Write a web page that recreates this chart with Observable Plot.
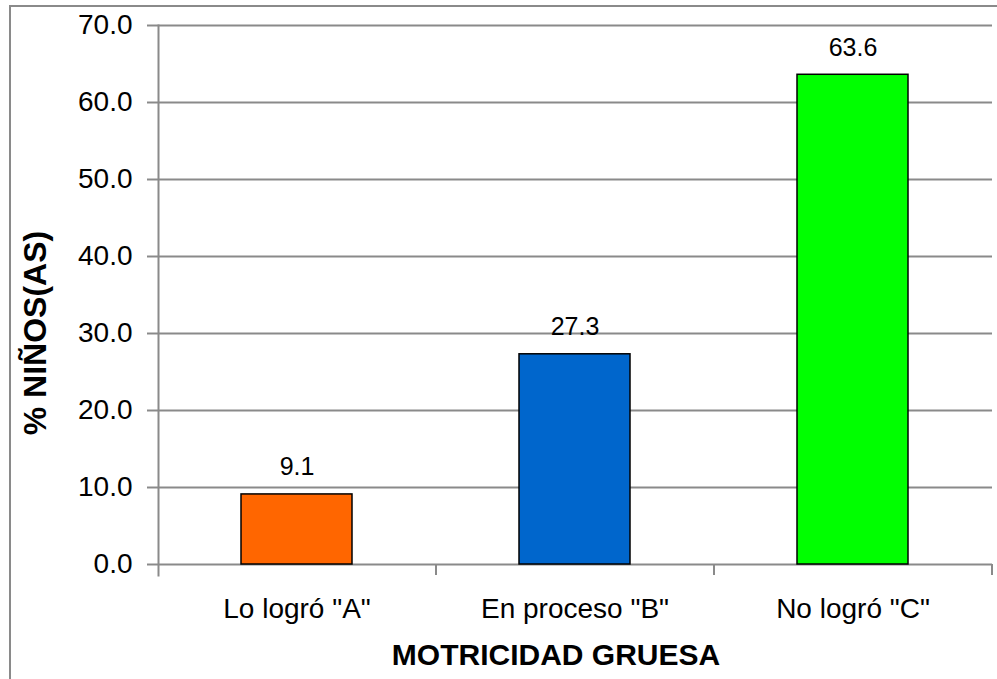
<!DOCTYPE html>
<html>
<head>
<meta charset="utf-8">
<script src="https://cdn.jsdelivr.net/npm/d3@7"></script>
<script src="https://cdn.jsdelivr.net/npm/@observablehq/plot@0.6"></script>
<style>
  html, body { margin: 0; padding: 0; background: #fff; }
  #wrap { position: relative; width: 997px; height: 679px; overflow: hidden; font-family: "Liberation Sans", Arial, sans-serif; color: #000; }
  #border { position: absolute; left: 9px; top: 5px; width: 1100px; height: 800px; border: 2px solid #8a8a8a; box-sizing: border-box; }
  #chart { position: absolute; left: 0; top: 0; }
  .title { position: absolute; font-weight: bold; white-space: nowrap; line-height: 1; }
  #xtitle { left: 556px; top: 640px; font-size: 30px; transform: translateX(-50%); }
  #ytitle { left: 35px; top: 333px; font-size: 32px; transform: translate(-50%, -50%) rotate(-90deg); }
</style>
</head>
<body>
<div id="wrap">
  <div id="border"></div>
  <div id="chart"></div>
  <div class="title" id="xtitle"></div>
  <div class="title" id="ytitle"></div>
</div>
<script>
const categories = ['Lo logró "A"', 'En proceso "B"', 'No logró "C"'];
const values = [9.1, 27.3, 63.6];
const barColors = ["#FF6600", "#0066CC", "#00FF00"];
const yTicks = [0, 10, 20, 30, 40, 50, 60, 70];
const xTitle = "MOTRICIDAD GRUESA";
const yTitle = "% NIÑOS(AS)";

const data = categories.map((c, i) => ({cat: c, value: values[i], color: barColors[i]}));

const W = 997, H = 679, ML = 158, MR = 5, MT = 25, MB = 115;
const step = (W - ML - MR) / categories.length;
const gray = "#8a8a8a";

const chart = Plot.plot({
  width: W, height: H,
  marginLeft: ML, marginRight: MR, marginTop: MT, marginBottom: MB,
  style: {fontFamily: '"Liberation Sans", Arial, sans-serif', background: "transparent", color: "#000"},
  x: {domain: categories, paddingInner: 0.6, paddingOuter: 0.3, axis: null, label: null},
  y: {domain: [0, 70], axis: null, label: null},
  color: {type: "identity"},
  marks: [
    Plot.gridY(yTicks, {stroke: gray, strokeOpacity: 1, strokeWidth: 2}),
    Plot.frame({anchor: "left", stroke: gray, strokeWidth: 2, insetBottom: -11}),
    Plot.axisY(yTicks, {label: null, tickSize: 11, tickPadding: 15, tickFormat: d => d.toFixed(1), fontSize: 28, stroke: gray, strokeWidth: 2, strokeOpacity: 1}),
    Plot.axisX(categories, {label: null, tickSize: 11, dx: step / 2, tickFormat: () => "", stroke: gray, strokeWidth: 2, strokeOpacity: 1}),
    Plot.axisX(categories, {label: null, tickSize: 0, tickPadding: 34, fontSize: 28}),
    Plot.barY(data, {x: "cat", y: "value", fill: "color", stroke: "#000", strokeWidth: 1.5}),
    Plot.text(data, {x: "cat", y: "value", text: d => d.value.toFixed(1), dy: -19, lineAnchor: "bottom", fontSize: 25, fill: "#000"})
  ]
});
document.getElementById("chart").appendChild(chart);
document.getElementById("xtitle").textContent = xTitle;
document.getElementById("ytitle").textContent = yTitle;
</script>
</body>
</html>
